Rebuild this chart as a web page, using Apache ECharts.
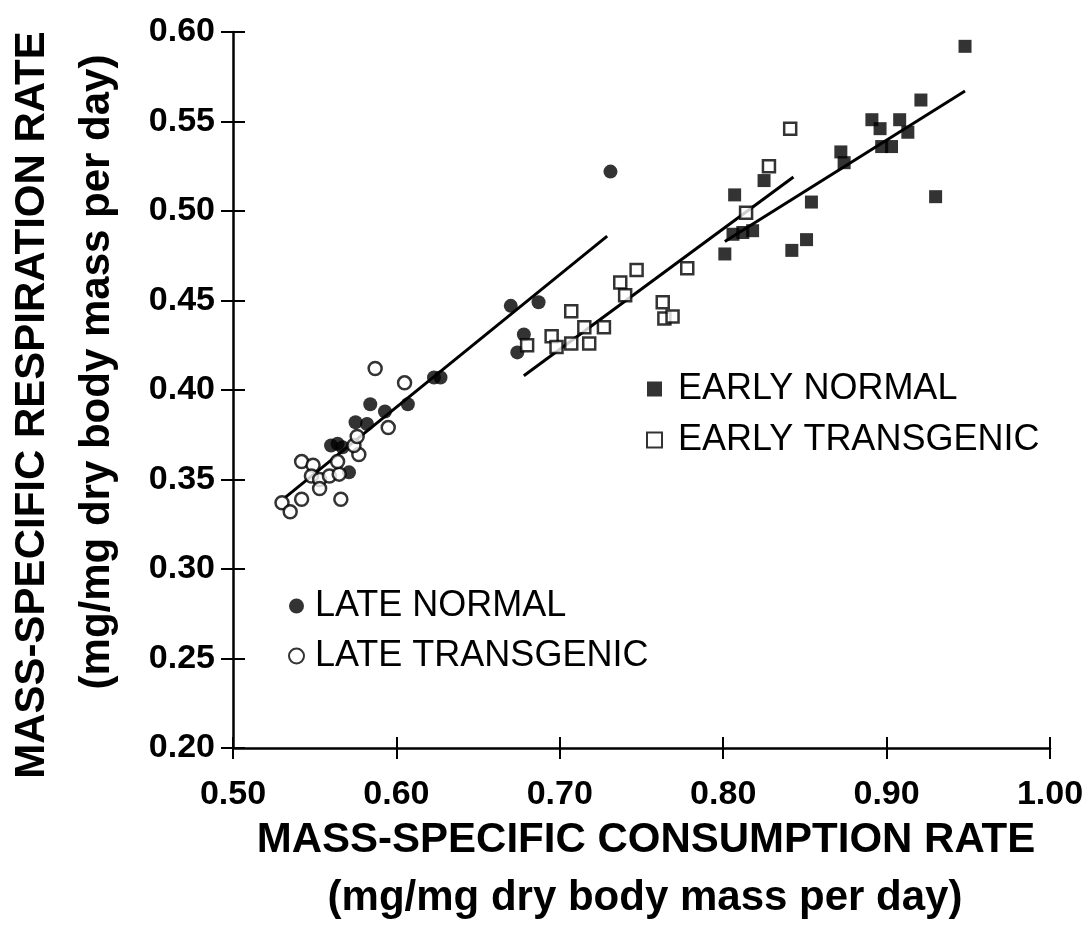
<!DOCTYPE html>
<html><head><meta charset="utf-8">
<script src="https://cdn.jsdelivr.net/npm/echarts@6/dist/echarts.min.js"></script>
<style>html,body{margin:0;padding:0;background:#fff}#c{width:1088px;height:943px}</style>
</head><body><div id="c"></div>
<script>
const xTicks = [0.5, 1.0, 0.1];
const yTicks = [0.2, 0.6, 0.05];
const earlyNormal = [[0.948,0.592],[0.921,0.562],[0.891,0.551],[0.908,0.551],[0.896,0.546],[0.913,0.544],[0.897,0.536],[0.903,0.536],[0.872,0.533],[0.874,0.527],[0.930,0.508],[0.854,0.505],[0.825,0.517],[0.807,0.509],[0.806,0.487],[0.812,0.488],[0.818,0.489],[0.801,0.476],[0.842,0.478],[0.851,0.484]];
const earlyTransgenic = [[0.680,0.425],[0.707,0.444],[0.695,0.430],[0.698,0.424],[0.707,0.426],[0.715,0.435],[0.718,0.426],[0.727,0.435],[0.737,0.460],[0.740,0.453],[0.747,0.467],[0.763,0.449],[0.764,0.440],[0.769,0.441],[0.778,0.468],[0.814,0.499],[0.828,0.525],[0.841,0.546]];
const lateNormal = [[0.623,0.407],[0.627,0.407],[0.607,0.392],[0.584,0.392],[0.593,0.388],[0.575,0.382],[0.582,0.381],[0.560,0.369],[0.564,0.370],[0.567,0.368],[0.571,0.354],[0.670,0.447],[0.687,0.449],[0.678,0.431],[0.674,0.421],[0.731,0.522]];
const lateTransgenic = [[0.587,0.412],[0.605,0.404],[0.595,0.379],[0.577,0.364],[0.574,0.369],[0.576,0.374],[0.542,0.360],[0.549,0.358],[0.548,0.352],[0.553,0.350],[0.559,0.352],[0.565,0.353],[0.564,0.360],[0.553,0.345],[0.542,0.339],[0.530,0.337],[0.535,0.332],[0.566,0.339]];
const fitLate = [[0.532,0.340],[0.729,0.486]];
const fitEarlyTransgenic = [[0.678,0.408],[0.843,0.519]];
const fitEarlyNormal = [[0.801,0.483],[0.948,0.567]];
const names = ['EARLY NORMAL','EARLY TRANSGENIC','LATE NORMAL','LATE TRANSGENIC'];
const xTitle = ['MASS-SPECIFIC CONSUMPTION RATE','(mg/mg dry body mass per day)'];
const yTitle = ['MASS-SPECIFIC RESPIRATION RATE','(mg/mg dry body mass per day)'];

const FONT = '"Liberation Sans", Arial, sans-serif';
const chart = echarts.init(document.getElementById('c'), null, {renderer:'canvas'});
const lbl = {fontFamily:FONT, fontWeight:'bold', fontSize:34, color:'#000'};
const legText = {fontFamily:FONT, fontSize:36, color:'#000', lineHeight:34};
function fitLine(d){return {type:'line', data:d, symbol:'none', silent:true, lineStyle:{color:'#000', width:3}, z:1};}
chart.setOption({
  animation:false,
  backgroundColor:'#fff',
  grid:{left:233, right:38, top:32, bottom:195},
  xAxis:[{type:'value', min:xTicks[0], max:xTicks[1], interval:xTicks[2],
    axisLine:{show:true, lineStyle:{color:'#000', width:2.5}},
    axisTick:{show:true, length:11, lineStyle:{color:'#000', width:2}},
    axisLabel:Object.assign({margin:30, formatter:v=>v.toFixed(2)}, lbl),
    splitLine:{show:false}},
   {type:'value', position:'bottom', min:xTicks[0], max:xTicks[1], interval:xTicks[2],
    axisLine:{show:false}, axisTick:{show:true, inside:true, length:11, lineStyle:{color:'#000', width:2}},
    axisLabel:{show:false}, splitLine:{show:false}}],
  yAxis:[{type:'value', min:yTicks[0], max:yTicks[1], interval:yTicks[2],
    axisLine:{show:true, lineStyle:{color:'#000', width:2.5}},
    axisTick:{show:true, length:12, lineStyle:{color:'#000', width:2}},
    axisLabel:Object.assign({margin:18, formatter:v=>v.toFixed(2)}, lbl),
    splitLine:{show:false}},
   {type:'value', position:'left', min:yTicks[0], max:yTicks[1], interval:yTicks[2],
    axisLine:{show:false}, axisTick:{show:true, inside:true, length:12, lineStyle:{color:'#000', width:2}},
    axisLabel:{show:false}, splitLine:{show:false}}],
  legend:[
    {data:[names[0],names[1]], orient:'vertical', left:641, top:366, itemWidth:15, itemHeight:15, itemGap:15,
     textStyle:Object.assign({padding:[0,0,0,11]}, legText)},
    {data:[names[2],names[3]], orient:'vertical', left:283, top:583, itemWidth:15, itemHeight:15, itemGap:14,
     textStyle:Object.assign({padding:[0,0,0,6]}, legText)}
  ],
  graphic:[
    {type:'text', x:646, y:840, style:{text:xTitle[0], font:'bold 42px '+FONT, fill:'#000', align:'center', verticalAlign:'middle'}},
    {type:'text', x:645, y:898, style:{text:xTitle[1], font:'bold 42px '+FONT, fill:'#000', align:'center', verticalAlign:'middle'}},
    {type:'text', x:32, y:405, rotation:Math.PI/2, style:{text:yTitle[0], font:'bold 42px '+FONT, fill:'#000', align:'center', verticalAlign:'middle'}},
    {type:'text', x:97, y:372, rotation:Math.PI/2, style:{text:yTitle[1], font:'bold 42px '+FONT, fill:'#000', align:'center', verticalAlign:'middle'}}
  ],
  series:[
    fitLine(fitLate), fitLine(fitEarlyTransgenic), fitLine(fitEarlyNormal),
    {name:names[0], type:'scatter', data:earlyNormal, symbol:'rect', symbolSize:13, itemStyle:{color:'#000'}, z:3},
    {name:names[1], type:'scatter', data:earlyTransgenic, symbol:'rect', symbolSize:12, itemStyle:{color:'#fff', borderColor:'#000', borderWidth:2.5}, z:4},
    {name:names[2], type:'scatter', data:lateNormal, symbol:'circle', symbolSize:14, itemStyle:{color:'#000'}, z:3},
    {name:names[3], type:'scatter', data:lateTransgenic, symbol:'circle', symbolSize:13, itemStyle:{color:'#fff', borderColor:'#000', borderWidth:2.5}, z:4}
  ]
});
</script></body></html>
